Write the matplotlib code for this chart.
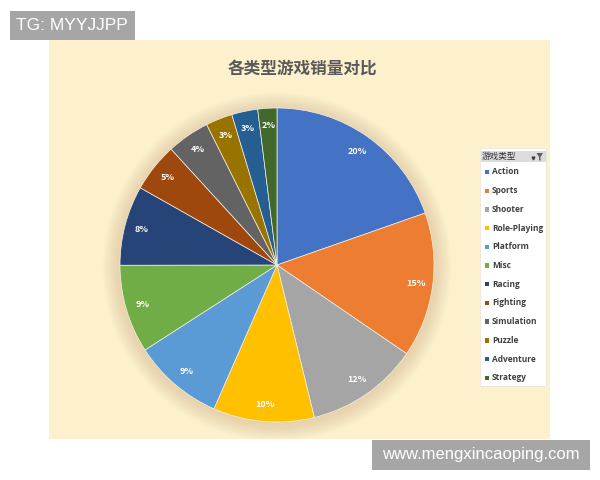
import numpy as np
import matplotlib
matplotlib.use('Agg')
from matplotlib import pyplot as plt
from matplotlib.patches import Rectangle, Circle, Polygon

plt.rcParams['font.family'] = ['Noto Sans CJK SC', 'DejaVu Sans']

genres = ['Action', 'Sports', 'Shooter', 'Role-Playing', 'Platform', 'Misc',
          'Racing', 'Fighting', 'Simulation', 'Puzzle', 'Adventure', 'Strategy']
sales = [1751.2, 1330.9, 1037.4, 927.4, 831.4, 810.0,
         732.0, 448.9, 392.2, 245.0, 239.0, 175.1]
colors = ['#4472c4', '#ed7d31', '#a5a5a5', '#ffc000', '#5b9bd5', '#70ad47',
          '#264478', '#9e480e', '#636363', '#997300', '#255e91', '#43682b']
title = '各类型游戏销量对比'
legend_title = '游戏类型'
tag_text = 'TG: MYYJJPP'
site_text = 'www.mengxincaoping.com'

W, H = 600, 480


def fx(x):
    return x / W


def fy(y):
    return 1 - y / H


fig = plt.figure(figsize=(6, 4.8), dpi=100)
fig.patch.set_facecolor('white')

# beige chart area
fig.patches.append(Rectangle((fx(49), fy(439)), (550 - 49) / W, (439 - 40) / H,
                             transform=fig.transFigure, facecolor='#fdf1cd',
                             edgecolor='none', zorder=-1))

fig.text(fx(302), fy(70), title, ha='center', va='center', fontsize=12,
         color='#595959', fontweight='bold')

# pie
cx, cy, R = 277, 265, 157
half = 185
ax = fig.add_axes([fx(cx - half), fy(cy + half), 2 * half / W, 2 * half / H])
# soft glow behind the pie
for r in np.linspace(1.11, 1.0, 18):
    ax.add_patch(Circle((0, -0.012), r, facecolor='#c9b07a', edgecolor='none',
                        alpha=0.022, zorder=0))
wedges, texts, autotexts = ax.pie(
    sales, colors=colors, startangle=90, counterclock=False,
    autopct='%.0f%%', pctdistance=0.89,
    wedgeprops=dict(edgecolor='#f4f0e6', linewidth=0.5),
    textprops=dict(color='white', fontsize=6.5, fontweight='bold'))
ax.set_xlim(-half / R, half / R)
ax.set_ylim(-half / R, half / R)
ax.set_aspect('equal')
ax.axis('off')

# legend panel (pixel coordinates inside)
lx0, lx1, ly0, ly1 = 480, 546, 148, 386
lax = fig.add_axes([fx(lx0), fy(ly1), (lx1 - lx0) / W, (ly1 - ly0) / H])
lax.set_xlim(0, lx1 - lx0)
lax.set_ylim(ly1 - ly0, 0)
lax.set_facecolor('white')
for s in lax.spines.values():
    s.set_color('#ebe6d8')
    s.set_linewidth(0.6)
lax.set_xticks([])
lax.set_yticks([])
lax.add_patch(Rectangle((0.5, 3), lx1 - lx0 - 1, 11, facecolor='#dcdcdc',
                        edgecolor='none'))
lax.text(2, 8.5, legend_title, fontsize=6.2, color='#333333', va='center')
lax.plot([53], [10], marker='v', markersize=2.0, color='#404040')
lax.add_patch(Polygon([[56.5, 5], [63, 5], [60.5, 9], [60.5, 12.5],
                       [59, 12.5], [59, 9]], closed=True,
                      facecolor='#606060', edgecolor='none'))
for i, (g, c) in enumerate(zip(genres, colors)):
    yy = 24 + 18.7 * i
    lax.add_patch(Rectangle((5, yy - 2.2), 4.4, 4.4, facecolor=c,
                            edgecolor='none'))
    lax.text(12, yy, g, fontsize=6, fontweight='bold', color='#404040',
             va='center', family=['Open Sans', 'DejaVu Sans'])

# watermark boxes
fig.patches.append(Rectangle((fx(10), fy(40)), 125 / W, 29 / H,
                             transform=fig.transFigure, facecolor='#a6a6a6',
                             edgecolor='none', zorder=1))
fig.text(fx(16), fy(25.5), tag_text, ha='left', va='center', fontsize=12.5,
         color='white', family=['Liberation Sans', 'DejaVu Sans'])
fig.patches.append(Rectangle((fx(372), fy(470)), 218 / W, 30 / H,
                             transform=fig.transFigure, facecolor='#a6a6a6',
                             edgecolor='none', zorder=1))
fig.text(fx(481), fy(455), site_text, ha='center', va='center', fontsize=12,
         color='white', family=['Liberation Sans', 'DejaVu Sans'])

fig.savefig('out.png', dpi=100, facecolor='white')
